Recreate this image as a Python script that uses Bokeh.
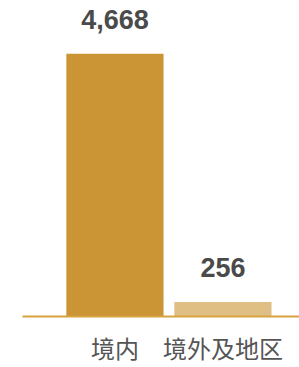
from bokeh.plotting import figure
from bokeh.models import Range1d, ColumnDataSource, FixedTicker
from bokeh.core.properties import value
from bokeh.embed import file_html
from bokeh.resources import INLINE

categories = ["境内", "境外及地区"]
values = [4668, 256]
value_labels = ["4,668", "256"]
bar_colors = ["#CB9535", "#E0BF85"]

xs = list(range(len(categories)))
src = ColumnDataSource(dict(x=xs, top=values, label=value_labels, color=bar_colors))

p = figure(width=299, height=367, output_backend="svg", toolbar_location=None,
           x_range=Range1d(-0.856, 1.709), y_range=Range1d(0, 5616),
           y_axis_location=None, min_border_left=22, min_border_right=0,
           min_border_top=0, min_border_bottom=51)
p.outline_line_color = None
p.xgrid.visible = False
p.ygrid.visible = False
p.background_fill_color = "white"
p.border_fill_color = "white"

p.vbar(x="x", top="top", width=0.9, bottom=0, color="color", line_color=None, source=src)

p.text(x="x", y="top", text="label", source=src, text_align="center", text_baseline="bottom",
       y_offset=-25, text_font=value("Liberation Sans"), text_font_style="bold",
       text_font_size="27px", text_color="#4A4A4A")

ax = p.xaxis[0]
ax.ticker = FixedTicker(ticks=xs)
ax.major_label_overrides = {i: c for i, c in zip(xs, categories)}
ax.axis_line_color = "#D6A340"
ax.axis_line_width = 2
ax.major_tick_line_color = None
ax.minor_tick_line_color = None
ax.major_label_text_font = "Noto Sans CJK SC"
ax.major_label_text_font_size = "24px"
ax.major_label_text_color = "#555555"
ax.major_label_standoff = 7

open("out.html", "w").write(file_html(p, INLINE))
